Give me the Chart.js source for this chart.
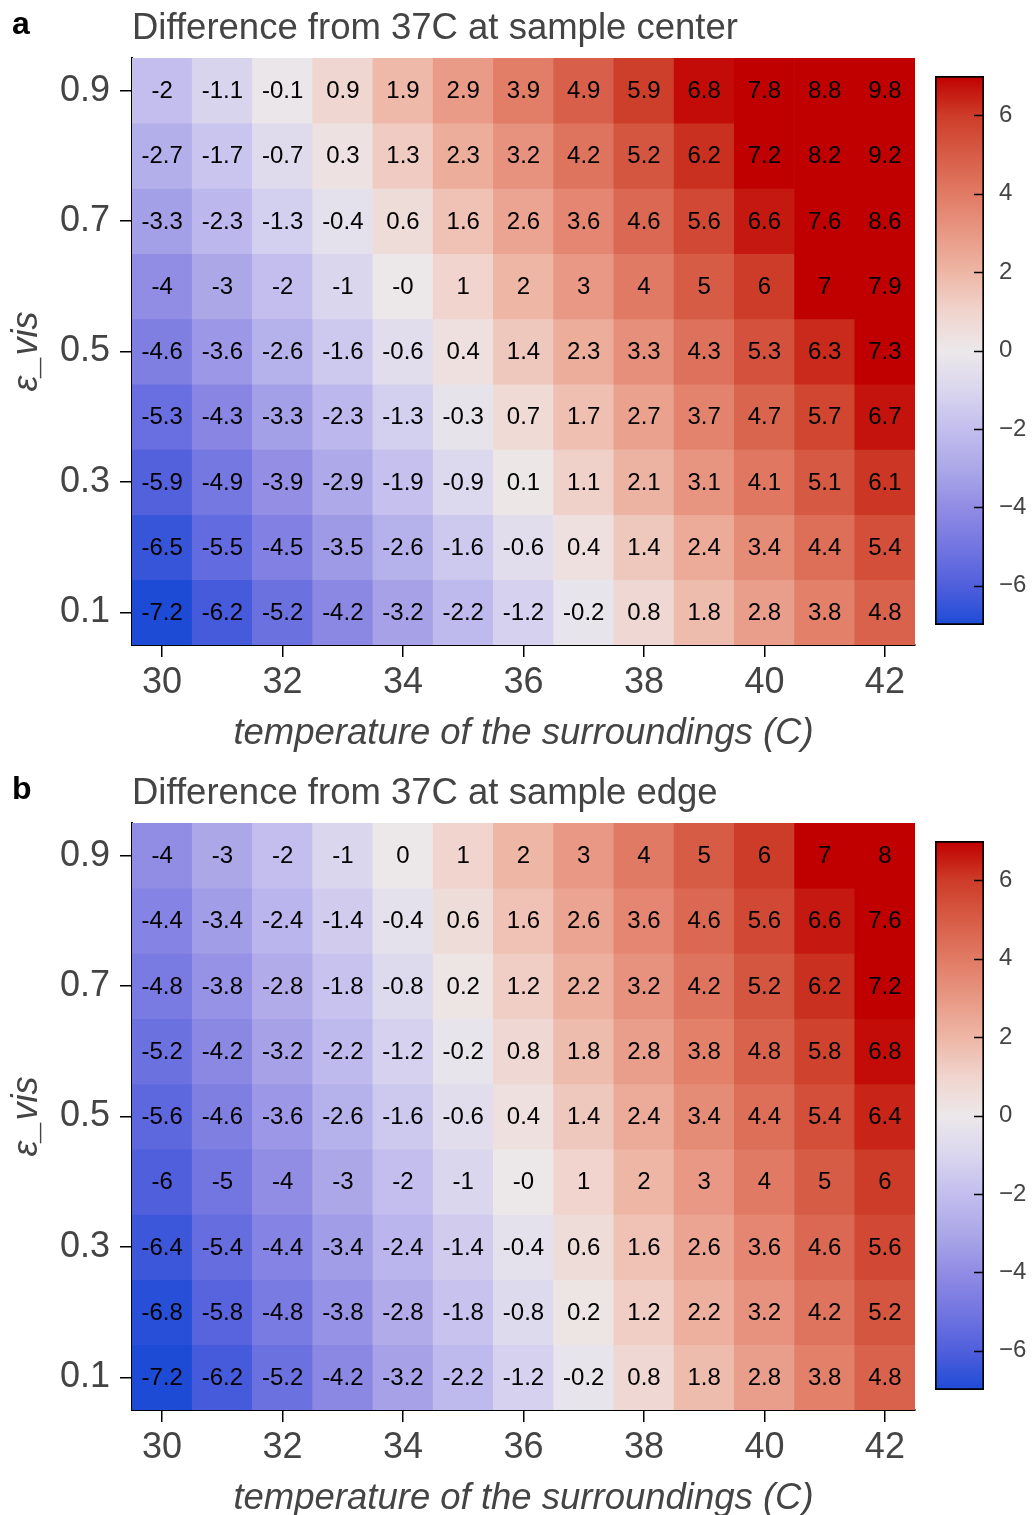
<!DOCTYPE html>
<html>
<head>
<meta charset="utf-8">
<script src="https://cdn.jsdelivr.net/npm/chart.js@4.4.1/dist/chart.umd.min.js"></script>
<style>
  html, body { margin: 0; padding: 0; background: #fff; overflow: hidden; }
  #page { position: relative; width: 1034px; height: 1515px; overflow: hidden; }
  .box { position: absolute; }
</style>
</head>
<body>
<div id="page">
  <div class="box" style="left:0;top:0;width:925px;height:765px"><canvas id="heatA"></canvas></div>
  <div class="box" style="left:920px;top:0;width:114px;height:765px"><canvas id="barA"></canvas></div>
  <div class="box" style="left:0;top:765px;width:925px;height:765px"><canvas id="heatB"></canvas></div>
  <div class="box" style="left:920px;top:765px;width:114px;height:765px"><canvas id="barB"></canvas></div>
</div>
<script>
// temperatures of the surroundings (columns) and emissivity rows (top row first)
const temps = [30, 31, 32, 33, 34, 35, 36, 37, 38, 39, 40, 41, 42];
const epsVis = [0.9, 0.8, 0.7, 0.6, 0.5, 0.4, 0.3, 0.2, 0.1];

// difference from 37C at the sample center, one row per eps value
const centerDiff = [
  [-2, -1.1, -0.1, 0.9, 1.9, 2.9, 3.9, 4.9, 5.9, 6.8, 7.8, 8.8, 9.8],
  [-2.7, -1.7, -0.7, 0.3, 1.3, 2.3, 3.2, 4.2, 5.2, 6.2, 7.2, 8.2, 9.2],
  [-3.3, -2.3, -1.3, -0.4, 0.6, 1.6, 2.6, 3.6, 4.6, 5.6, 6.6, 7.6, 8.6],
  [-4, -3, -2, -1, -0, 1, 2, 3, 4, 5, 6, 7, 7.9],
  [-4.6, -3.6, -2.6, -1.6, -0.6, 0.4, 1.4, 2.3, 3.3, 4.3, 5.3, 6.3, 7.3],
  [-5.3, -4.3, -3.3, -2.3, -1.3, -0.3, 0.7, 1.7, 2.7, 3.7, 4.7, 5.7, 6.7],
  [-5.9, -4.9, -3.9, -2.9, -1.9, -0.9, 0.1, 1.1, 2.1, 3.1, 4.1, 5.1, 6.1],
  [-6.5, -5.5, -4.5, -3.5, -2.6, -1.6, -0.6, 0.4, 1.4, 2.4, 3.4, 4.4, 5.4],
  [-7.2, -6.2, -5.2, -4.2, -3.2, -2.2, -1.2, -0.2, 0.8, 1.8, 2.8, 3.8, 4.8]
];

// difference from 37C at the sample edge
const edgeDiff = [
  [-4, -3, -2, -1, 0, 1, 2, 3, 4, 5, 6, 7, 8],
  [-4.4, -3.4, -2.4, -1.4, -0.4, 0.6, 1.6, 2.6, 3.6, 4.6, 5.6, 6.6, 7.6],
  [-4.8, -3.8, -2.8, -1.8, -0.8, 0.2, 1.2, 2.2, 3.2, 4.2, 5.2, 6.2, 7.2],
  [-5.2, -4.2, -3.2, -2.2, -1.2, -0.2, 0.8, 1.8, 2.8, 3.8, 4.8, 5.8, 6.8],
  [-5.6, -4.6, -3.6, -2.6, -1.6, -0.6, 0.4, 1.4, 2.4, 3.4, 4.4, 5.4, 6.4],
  [-6, -5, -4, -3, -2, -1, -0, 1, 2, 3, 4, 5, 6],
  [-6.4, -5.4, -4.4, -3.4, -2.4, -1.4, -0.4, 0.6, 1.6, 2.6, 3.6, 4.6, 5.6],
  [-6.8, -5.8, -4.8, -3.8, -2.8, -1.8, -0.8, 0.2, 1.2, 2.2, 3.2, 4.2, 5.2],
  [-7.2, -6.2, -5.2, -4.2, -3.2, -2.2, -1.2, -0.2, 0.8, 1.8, 2.8, 3.8, 4.8]
];

const xTicks = [30, 32, 34, 36, 38, 40, 42];
const yTicks = [0.1, 0.3, 0.5, 0.7, 0.9];
const cbarTicks = [-6, -4, -2, 0, 2, 4, 6];
const cbarRange = [-7, 7];

// blue - white - red colour map, values clipped to cbarRange
const colorStops = [
  [-7, [30, 75, 214]], [-6, [80, 95, 220]], [-5, [115, 118, 225]], [-4, [145, 140, 228]],
  [-3, [172, 168, 232]], [-2, [195, 190, 238]], [-1, [218, 214, 238]], [0, [236, 232, 234]],
  [1, [240, 212, 205]], [2, [238, 182, 165]], [3, [232, 152, 132]], [4, [225, 122, 100]],
  [5, [215, 92, 70]], [6, [205, 60, 40]], [7, [192, 0, 0]]
];

const FONT = '"Liberation Sans", Arial, Helvetica, sans-serif';
const GREY = '#444';

function rgb(c) { return `rgb(${c[0]},${c[1]},${c[2]})`; }

function colorFor(v) {
  const t = Math.min(cbarRange[1], Math.max(cbarRange[0], v));
  for (let i = 1; i < colorStops.length; i++) {
    const [v0, c0] = colorStops[i - 1];
    const [v1, c1] = colorStops[i];
    if (t <= v1) {
      const f = (t - v0) / (v1 - v0);
      return rgb(c0.map((a, k) => Math.round(a + (c1[k] - a) * f)));
    }
  }
  return rgb(colorStops[colorStops.length - 1][1]);
}

// "-0" is kept as printed
function fmtCell(v) { return Object.is(v, -0) ? '-0' : String(v); }

// writes each cell value in the middle of its bar
const cellLabels = {
  id: 'cellLabels',
  afterDatasetsDraw(chart) {
    const ctx = chart.ctx;
    ctx.save();
    ctx.font = `24px ${FONT}`;
    ctx.fillStyle = '#000';
    ctx.textAlign = 'center';
    ctx.textBaseline = 'middle';
    chart.data.datasets.forEach((ds, i) => {
      chart.getDatasetMeta(i).data.forEach((bar, j) => {
        const p = bar.getProps(['x', 'y', 'base'], true);
        ctx.fillText(fmtCell(ds.data[j].v), p.x, (p.y + p.base) / 2 + 1);
      });
    });
    ctx.restore();
  }
};

// bold panel letter in the top-left corner
const panelLetter = {
  id: 'panelLetter',
  afterDraw(chart, args, opts) {
    const ctx = chart.ctx;
    ctx.save();
    ctx.font = `bold 32px ${FONT}`;
    ctx.fillStyle = '#000';
    ctx.textBaseline = 'alphabetic';
    ctx.fillText(opts.text, 12, 34);
    ctx.restore();
  }
};

function makeHeatmap(id, letter, titleText, rows) {
  const datasets = epsVis.map((eps, r) => ({
    data: temps.map((t, c) => ({ x: t, y: [eps - 0.05, eps + 0.05], v: rows[r][c] })),
    backgroundColor: rows[r].map(colorFor),
    borderWidth: 0,
    barPercentage: 1,
    categoryPercentage: 1,
    grouped: false
  }));

  const tickGrid = {
    display: true,
    drawOnChartArea: false,
    drawTicks: true,
    tickLength: 12,
    color: '#000',
    lineWidth: 1.5,
    offset: false
  };

  return new Chart(document.getElementById(id), {
    type: 'bar',
    data: { datasets },
    options: {
      responsive: true,
      maintainAspectRatio: false,
      animation: false,
      layout: { padding: { top: 0, right: 10, bottom: 0, left: 0 } },
      plugins: {
        legend: { display: false },
        tooltip: { enabled: false },
        title: {
          display: true,
          text: titleText,
          align: 'start',
          fullSize: false,
          color: GREY,
          font: { family: FONT, size: 36.5, weight: 'normal' },
          padding: { top: 7.5, bottom: 6.7 }
        },
        panelLetter: { text: letter }
      },
      scales: {
        x: {
          type: 'linear',
          min: 29.5,
          max: 42.5,
          offset: false,
          afterBuildTicks: s => { s.ticks = xTicks.map(v => ({ value: v })); },
          afterFit: s => { s.height = 120; },
          grid: tickGrid,
          border: { display: true, color: '#000', width: 2 },
          ticks: {
            color: GREY,
            font: { family: FONT, size: 36 },
            padding: 4,
            maxRotation: 0,
            autoSkip: false
          },
          title: {
            display: true,
            text: 'temperature of the surroundings (C)',
            color: GREY,
            font: { family: FONT, size: 36.5, style: 'italic' },
            padding: { top: 0, bottom: 9 }
          }
        },
        y: {
          type: 'linear',
          min: 0.05,
          max: 0.95,
          afterBuildTicks: s => { s.ticks = yTicks.map(v => ({ value: v })); },
          afterFit: s => { s.width = 132; },
          grid: tickGrid,
          border: { display: true, color: '#000', width: 2 },
          ticks: {
            color: GREY,
            font: { family: FONT, size: 36 },
            padding: 10,
            callback: v => v.toFixed(1)
          },
          title: {
            display: true,
            text: 'ε_vis',
            color: GREY,
            font: { family: FONT, size: 36, style: 'italic' },
            padding: { top: 5, bottom: 0 }
          }
        }
      }
    },
    plugins: [cellLabels, panelLetter]
  });
}

// short inward tick marks on the right side of the colour bar
const cbarTickMarks = {
  id: 'cbarTickMarks',
  afterDatasetsDraw(chart) {
    const ctx = chart.ctx;
    const area = chart.chartArea;
    const ys = chart.scales.y;
    ctx.save();
    ctx.strokeStyle = '#000';
    ctx.lineWidth = 1.5;
    cbarTicks.forEach(t => {
      const y = Math.round(ys.getPixelForValue(t)) + 0.5;
      ctx.beginPath();
      ctx.moveTo(area.right - 10, y);
      ctx.lineTo(area.right, y);
      ctx.stroke();
    });
    ctx.restore();
  }
};

function makeColorbar(id) {
  return new Chart(document.getElementById(id), {
    type: 'bar',
    data: {
      labels: [''],
      datasets: [{
        data: [cbarRange],
        backgroundColor: c => {
          const chart = c.chart;
          if (!chart.chartArea) return null;
          const ys = chart.scales.y;
          const g = chart.ctx.createLinearGradient(0, ys.getPixelForValue(cbarRange[0]), 0, ys.getPixelForValue(cbarRange[1]));
          colorStops.forEach(([v, col]) => {
            g.addColorStop((v - cbarRange[0]) / (cbarRange[1] - cbarRange[0]), rgb(col));
          });
          return g;
        },
        borderColor: '#000',
        borderWidth: 2,
        borderSkipped: false,
        barPercentage: 1,
        categoryPercentage: 1
      }]
    },
    options: {
      responsive: true,
      maintainAspectRatio: false,
      animation: false,
      layout: { padding: { top: 76, right: 0, bottom: 140, left: 15 } },
      plugins: { legend: { display: false }, tooltip: { enabled: false } },
      scales: {
        x: { display: false },
        y: {
          position: 'right',
          min: cbarRange[0],
          max: cbarRange[1],
          afterBuildTicks: s => { s.ticks = cbarTicks.map(v => ({ value: v })); },
          afterFit: s => { s.width = 50; },
          grid: { display: false },
          border: { display: false },
          ticks: {
            color: GREY,
            font: { family: FONT, size: 24 },
            padding: 7,
            callback: v => (v < 0 ? '\u2212' + Math.abs(v) : String(v))
          }
        }
      }
    },
    plugins: [cbarTickMarks]
  });
}

makeHeatmap('heatA', 'a', 'Difference from 37C at sample center', centerDiff);
makeColorbar('barA');
makeHeatmap('heatB', 'b', 'Difference from 37C at sample edge', edgeDiff);
makeColorbar('barB');
</script>
</body>
</html>
